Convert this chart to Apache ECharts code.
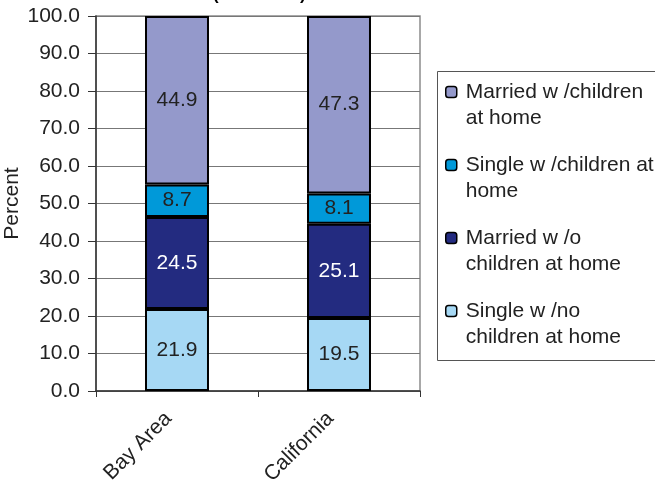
<!DOCTYPE html>
<html>
<head>
<meta charset="utf-8">
<script src="https://cdn.jsdelivr.net/npm/echarts@6/dist/echarts.min.js"></script>
<style>html,body{margin:0;padding:0;background:#fff;}#c{width:655px;height:489px;}</style>
</head>
<body>
<div id="c"></div>
<script>
const categories = ['Bay Area', 'California'];
const singleNoChildren = [21.9, 19.5];
const marriedNoChildren = [24.5, 25.1];
const singleWithChildren = [8.7, 8.1];
const marriedWithChildren = [44.9, 47.3];
const yTicks = [0, 10, 20, 30, 40, 50, 60, 70, 80, 90, 100];

const names = {
  snc: 'Single w /no children at home',
  mnc: 'Married w /o children at home',
  swc: 'Single w /children at home',
  mwc: 'Married w /children at home'
};
const legendLines = {};
legendLines[names.mwc] = ['Married w /children', 'at home'];
legendLines[names.swc] = ['Single w /children at', 'home'];
legendLines[names.mnc] = ['Married w /o', 'children at home'];
legendLines[names.snc] = ['Single w /no', 'children at home'];

const font = 'Arial, "Liberation Sans", sans-serif';
const fs = 21;

function mk(name, data, color, labelColor) {
  return {
    name: name, type: 'bar', stack: 'all', data: data, barWidth: '39.5%',
    itemStyle: { color: color, borderColor: '#000', borderWidth: 2 },
    label: { show: true, position: 'inside', formatter: p => p.value.toFixed(1),
      color: labelColor, fontSize: fs, fontFamily: font },
    emphasis: { disabled: true }
  };
}

const chart = echarts.init(document.getElementById('c'), null, { renderer: 'canvas' });
chart.setOption({
  animation: false,
  backgroundColor: '#fff',
  title: { text: '(2000-2005)', left: 208, top: -18,
    textStyle: { fontSize: 17, fontWeight: 'bold', fontFamily: font, color: '#000' } },
  grid: { left: 96, right: 235, top: 16, bottom: 98, show: true, borderColor: '#8c8c8c', borderWidth: 1.5 },
  graphic: [{
    type: 'rect', silent: true, z: 0,
    shape: { x: 437.5, y: 71.5, width: 260, height: 289 },
    style: { fill: 'none', stroke: '#555', lineWidth: 1 }
  }],
  legend: {
    orient: 'vertical', left: 437, top: 71,
    data: [names.mwc, names.swc, names.mnc, names.snc],
    formatter: n => '\n{t|' + legendLines[n][0] + '}\n{t|' + legendLines[n][1] + '}',
    itemWidth: 11, itemHeight: 11, itemGap: -5,
    padding: [-18, 0, 10, 8],
    borderWidth: 0,
    textStyle: { fontSize: fs, fontFamily: font, color: '#222', lineHeight: 26,
      rich: { t: { fontSize: fs, fontFamily: font, color: '#222', lineHeight: 26, padding: [0, 0, 0, 4] } } },
    itemStyle: { borderColor: '#000', borderWidth: 1.5 },
    selectedMode: false
  },
  xAxis: {
    type: 'category', data: categories,
    axisLine: { lineStyle: { color: '#333', width: 1.5 } },
    axisTick: { show: true, length: 6, lineStyle: { color: '#333' } },
    axisLabel: { rotate: 45, fontSize: fs, fontFamily: font, color: '#222', margin: 16, padding: [0, 12, 0, 0] }
  },
  yAxis: {
    type: 'value', min: 0, max: 100, interval: 10,
    name: 'Percent', nameLocation: 'middle', nameGap: 73, nameRotate: 90,
    nameTextStyle: { fontSize: fs, fontFamily: font, color: '#222' },
    axisLine: { show: true, lineStyle: { color: '#333', width: 1.5 } },
    axisTick: { show: true, length: 8, lineStyle: { color: '#333' } },
    axisLabel: { fontSize: fs, fontFamily: font, color: '#222', margin: 16,
      formatter: v => yTicks.indexOf(v) >= 0 ? v.toFixed(1) : '' },
    splitLine: { lineStyle: { color: '#777', width: 1 } }
  },
  series: [
    mk(names.snc, singleNoChildren, '#A6D8F4', '#222'),
    mk(names.mnc, marriedNoChildren, '#232B80', '#fff'),
    mk(names.swc, singleWithChildren, '#0099D9', '#222'),
    mk(names.mwc, marriedWithChildren, '#9499CB', '#222')
  ]
});
</script>
</body>
</html>
